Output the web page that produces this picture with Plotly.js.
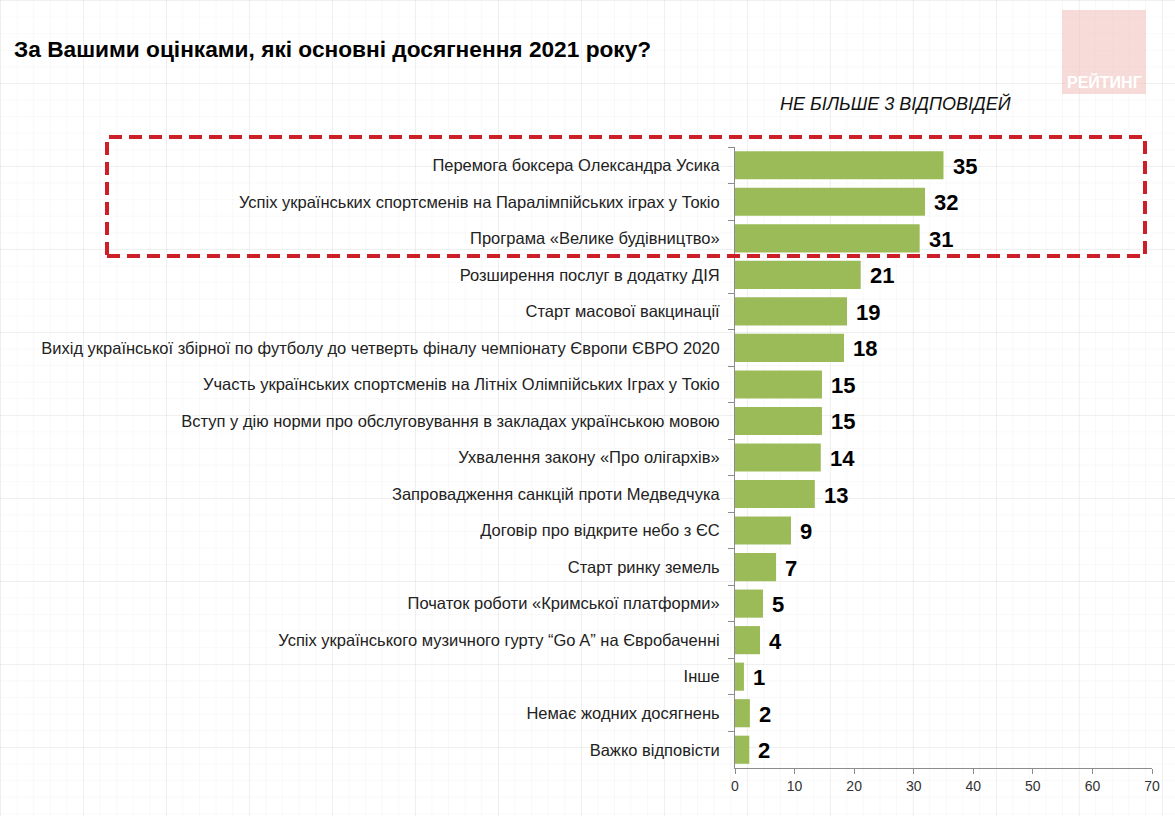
<!DOCTYPE html>
<html>
<head>
<meta charset="utf-8">
<script src="https://cdn.plot.ly/plotly-3.0.1.min.js"></script>
<style>
html, body { margin: 0; padding: 0; }
body {
  width: 1175px; height: 816px; overflow: hidden;
  background-color: #ffffff;
  background-image:
    linear-gradient(to right, rgba(0,0,0,0.04) 1px, transparent 1px),
    linear-gradient(to bottom, rgba(0,0,0,0.04) 1px, transparent 1px),
    linear-gradient(to right, rgba(0,0,0,0.022) 1px, transparent 1px),
    linear-gradient(to bottom, rgba(0,0,0,0.022) 1px, transparent 1px);
  background-size: 83px 83px, 83px 83px, 16.6px 16.6px, 16.6px 16.6px;
}
#chart { width: 1175px; height: 816px; }
</style>
</head>
<body>
<div id="chart"></div>
<script>
// Data
const categories = [
  "Перемога боксера Олександра Усика",
  "Успіх українських спортсменів на Паралімпійських іграх у Токіо",
  "Програма «Велике будівництво»",
  "Розширення послуг в додатку ДІЯ",
  "Старт масової вакцинації",
  "Вихід української збірної по футболу до четверть фіналу чемпіонату Європи ЄВРО 2020",
  "Участь українських спортсменів на Літніх Олімпійських Іграх у Токіо",
  "Вступ у дію норми про обслуговування в закладах українською мовою",
  "Ухвалення закону «Про олігархів»",
  "Запровадження санкцій проти Медведчука",
  "Договір про відкрите небо з ЄС",
  "Старт ринку земель",
  "Початок роботи «Кримської платформи»",
  "Успіх українського музичного гурту “Go A” на Євробаченні",
  "Інше",
  "Немає жодних досягнень",
  "Важко відповісти"
];
const values = [35, 31.9, 31, 21.1, 18.8, 18.3, 14.6, 14.6, 14.4, 13.4, 9.4, 6.9, 4.7, 4.2, 1.5, 2.5, 2.4];
const valueLabels = ["35", "32", "31", "21", "19", "18", "15", "15", "14", "13", "9", "7", "5", "4", "1", "2", "2"];
const xTicks = [0, 10, 20, 30, 40, 50, 60, 70];

const titleText = "За Вашими оцінками, які основні досягнення 2021 року?";
const subtitleText = "НЕ БІЛЬШЕ 3 ВІДПОВІДЕЙ";
const logoText = "РЕЙТИНГ";

// Layout geometry (pixels)
const W = 1175, H = 816;
const L = 735, R = 23, T = 147, B = 48;
const pw = W - L - R, ph = H - T - B;
const px = x => (x - L) / pw;
const py = y => (H - B - y) / ph;

const FONT = "Liberation Sans, Arial, sans-serif";

const trace = {
  type: "bar",
  orientation: "h",
  y: categories,
  x: values,
  marker: { color: "#9bbb59" },
  hoverinfo: "skip"
};

const annotations = values.map((v, i) => ({
  x: v, y: categories[i], xref: "x", yref: "y",
  text: "<b>" + valueLabels[i] + "</b>",
  showarrow: false, xanchor: "left", yanchor: "middle",
  xshift: 7, yshift: -1,
  font: { family: FONT, size: 22, color: "#000000" }
}));

annotations.push({
  xref: "paper", yref: "paper", x: px(895), y: py(104),
  text: "<i>" + subtitleText + "</i>", showarrow: false,
  xanchor: "center", yanchor: "middle",
  font: { family: FONT, size: 18, color: "#111111" }
});
annotations.push({
  xref: "paper", yref: "paper", x: px(1104), y: py(82),
  text: "<b>" + logoText + "</b>", showarrow: false,
  xanchor: "center", yanchor: "middle",
  font: { family: FONT, size: 16, color: "#ffffff" }
});

const shapes = [
  { type: "rect", xref: "paper", yref: "paper",
    x0: px(1062), x1: px(1146), y0: py(94), y1: py(10),
    fillcolor: "rgba(240,190,184,0.55)", line: { width: 0 }, layer: "below" },
  { type: "rect", xref: "paper", yref: "paper",
    x0: px(107), x1: px(1145), y0: py(256), y1: py(137),
    fillcolor: "rgba(0,0,0,0)",
    line: { color: "#cc1f27", width: 4, dash: "13px,7px" } }
];

const layout = {
  width: W, height: H,
  margin: { l: L, r: R, t: T, b: B },
  paper_bgcolor: "rgba(0,0,0,0)",
  plot_bgcolor: "rgba(0,0,0,0)",
  showlegend: false,
  bargap: 0.23,
  title: {
    text: "<b>" + titleText + "</b>",
    x: 14 / W, xref: "container", xanchor: "left",
    y: 1 - 49 / H, yref: "container", yanchor: "middle",
    font: { family: FONT, size: 22.7, color: "#000000" }
  },
  xaxis: {
    range: [0, 70], tickvals: xTicks, ticktext: xTicks.map(String),
    showgrid: false, zeroline: false,
    showline: true, linecolor: "#8c8c8c", linewidth: 1,
    ticks: "outside", ticklen: 5, tickcolor: "#8c8c8c",
    tickfont: { family: FONT, size: 14, color: "#333333" },
    fixedrange: true
  },
  yaxis: {
    autorange: "reversed", type: "category",
    showgrid: false, zeroline: false,
    showline: true, linecolor: "#8c8c8c", linewidth: 1,
    ticks: "outside", ticklen: 6, tickcolor: "#8c8c8c",
    tickson: "boundaries",
    ticklabelstandoff: 11,
    tickfont: { family: FONT, size: 16.5, color: "#222222" },
    fixedrange: true
  },
  annotations: annotations,
  shapes: shapes
};

Plotly.newPlot("chart", [trace], layout, { displayModeBar: false, staticPlot: true });
</script>
</body>
</html>
